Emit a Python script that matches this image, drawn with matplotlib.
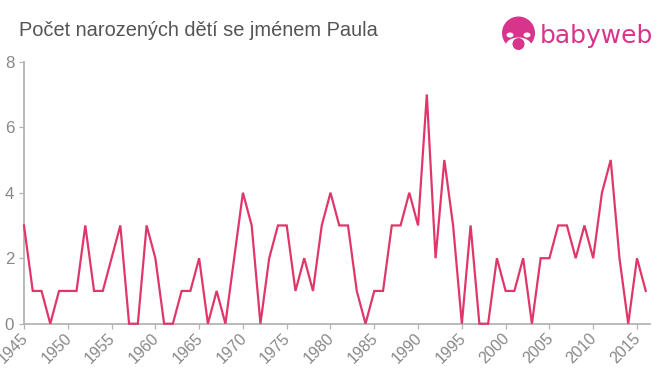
#!/usr/bin/python3
import matplotlib
matplotlib.use('Agg')
import matplotlib.pyplot as plt
from matplotlib.patches import Circle, Ellipse
from matplotlib.transforms import ScaledTranslation

years = list(range(1945, 2017))
counts = [3, 1, 1, 0, 1, 1, 1, 3, 1, 1, 2, 3, 0, 0, 3, 2, 0, 0, 1, 1, 2, 0, 1, 0,
          2, 4, 3, 0, 2, 3, 3, 1, 2, 1, 3, 4, 3, 3, 1, 0, 1, 1, 3, 3, 4, 3, 7, 2,
          5, 3, 0, 3, 0, 0, 2, 1, 1, 2, 0, 2, 2, 3, 3, 2, 3, 2, 4, 5, 2, 0, 2, 1]
x_ticks = list(range(1945, 2016, 5))
y_ticks = [0, 2, 4, 6, 8]
title = 'Počet narozených dětí se jménem Paula'
logo_text = 'babyweb'

W, H = 660, 375
plt.rcParams['font.family'] = ['Liberation Sans', 'DejaVu Sans']

fig = plt.figure(figsize=(W / 100, H / 100), dpi=100)
# plot area in pixels: x 24..650, y 61.7..323.7
ax = fig.add_axes([24 / W, 1 - 323.7 / H, 626 / W, 262 / H])

ax.plot(years, counts, color='#e0376b', linewidth=1.6, clip_on=False,
        solid_joinstyle='miter', zorder=3)

ax.set_xlim(1945, 1945 + 626 / 8.757)
ax.set_ylim(0, 8)
ax.set_xticks(x_ticks)
ax.set_yticks(y_ticks)

for s in ['top', 'right']:
    ax.spines[s].set_visible(False)
for s in ['left', 'bottom']:
    ax.spines[s].set_color('#b4b4b4')
    ax.spines[s].set_linewidth(1.3)

ax.tick_params(axis='both', color='#b4b4b4', labelcolor='#888888', labelsize=12.2,
               length=3.5, width=0.9)
ax.tick_params(axis='y', pad=3.6)
ax.tick_params(axis='x', pad=1.5, labelsize=11.4)
# labels sit a bit left of the tick in the original
shift = ScaledTranslation(-4 / 100, 0, fig.dpi_scale_trans)
for lab in ax.get_xticklabels():
    lab.set_rotation(45)
    lab.set_ha('right')
    lab.set_rotation_mode('anchor')
    lab.set_transform(lab.get_transform() + shift)

fig.text(19 / W, 1 - 30.5 / H, title, fontsize=14.4, color='#555555', va='center', ha='left')

# logo
logo = fig.add_axes([0, 0, 1, 1], facecolor='none')
logo.set_xlim(0, W)
logo.set_ylim(H, 0)
logo.axis('off')
pink = '#d9348c'
logo.add_patch(Circle((518.5, 33), 16.5, color=pink, lw=0))
logo.add_patch(Ellipse((518.5, 46), 26, 17, color='white', lw=0))
logo.add_patch(Ellipse((510, 35), 7, 5, color='white', lw=0))
logo.add_patch(Ellipse((527, 35), 7, 5, color='white', lw=0))
logo.add_patch(Circle((518.5, 44), 6, color=pink, lw=0))
logo.text(539.5, 42.5, logo_text, fontsize=17.9, color=pink, va='baseline', ha='left',
          family='DejaVu Sans')

fig.savefig('out.png', dpi=100)
